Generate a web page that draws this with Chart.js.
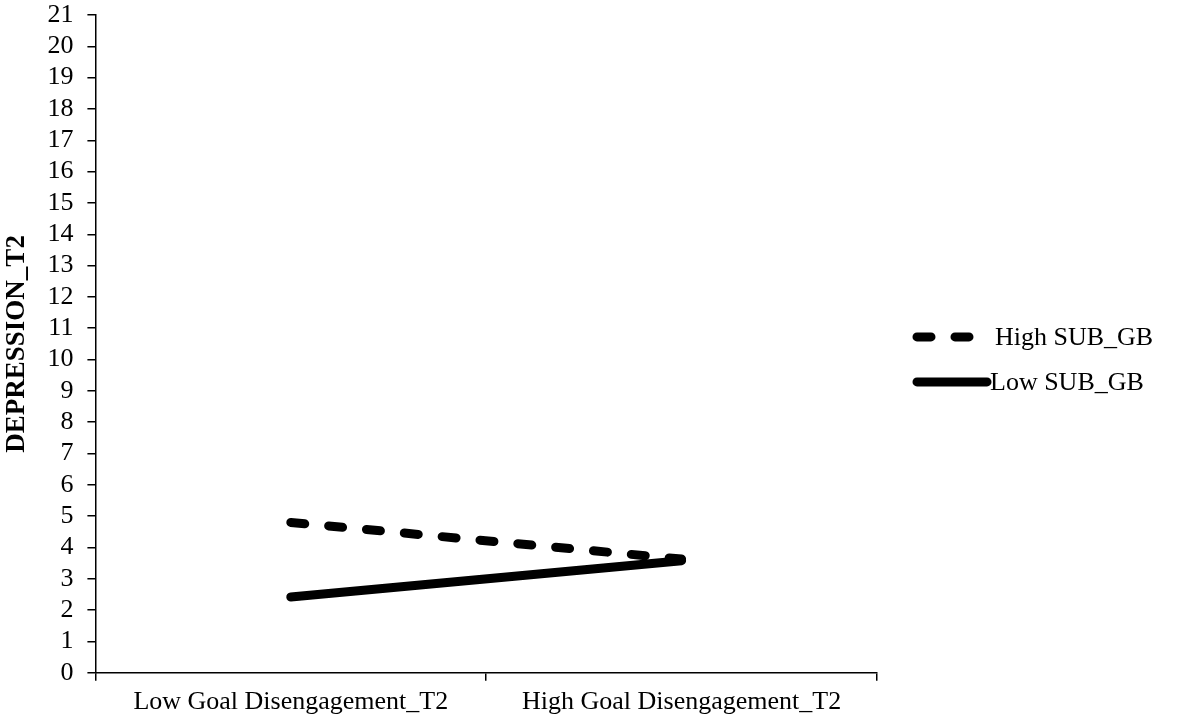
<!DOCTYPE html>
<html>
<head>
<meta charset="utf-8">
<script src="https://cdn.jsdelivr.net/npm/chart.js@4/dist/chart.umd.min.js"></script>
<style>
  html, body { margin: 0; padding: 0; background: #fff; }
  #wrap { width: 1177px; height: 724px; }
</style>
</head>
<body>
<div id="wrap"><canvas id="chart" width="1177" height="724"></canvas></div>
<script>
const categories = ['Low Goal Disengagement_T2', 'High Goal Disengagement_T2'];
const highSubGb = [4.8, 3.63];
const lowSubGb = [2.42, 3.58];
const seriesNames = ['High SUB_GB', 'Low SUB_GB'];
const yTicks = { min: 0, max: 21, step: 1 };

const FONT = 'Liberation Serif, Times New Roman, serif';
const FS = 26;

// legend drawn on the right side, next to the plot
const sideLegend = {
  id: 'sideLegend',
  afterDraw(chart) {
    const { ctx, chartArea } = chart;
    const x0 = chartArea.right + 36;
    const yMid = (chartArea.top + chartArea.bottom) / 2;
    chart.data.datasets.forEach((ds, i) => {
      const y = yMid - 7 + i * 45;
      ctx.save();
      ctx.strokeStyle = ds.borderColor;
      ctx.lineWidth = ds.borderWidth;
      ctx.lineCap = 'round';
      ctx.setLineDash(ds.borderDash || []);
      ctx.beginPath();
      ctx.moveTo(x0 + 4, y);
      ctx.lineTo(ds.borderDash ? x0 + 69 : x0 + 74, y);
      ctx.stroke();
      ctx.setLineDash([]);
      ctx.fillStyle = '#000';
      ctx.font = FS + 'px ' + FONT;
      ctx.textBaseline = 'middle';
      ctx.fillText(ds.label, ds.borderDash ? x0 + 82 : x0 + 77, y + 1);
      ctx.restore();
    });
  }
};

new Chart(document.getElementById('chart'), {
  type: 'line',
  data: {
    labels: categories,
    datasets: [
      {
        label: seriesNames[0],
        data: highSubGb,
        borderColor: '#000',
        borderWidth: 9,
        borderDash: [14, 24],
        borderCapStyle: 'round',
        pointRadius: 0,
        fill: false
      },
      {
        label: seriesNames[1],
        data: lowSubGb,
        borderColor: '#000',
        borderWidth: 9,
        borderCapStyle: 'round',
        pointRadius: 0,
        fill: false
      }
    ]
  },
  options: {
    responsive: false,
    animation: false,
    layout: { padding: { top: 15, right: 300, bottom: 0, left: -5 } },
    plugins: { legend: { display: false }, tooltip: { enabled: false } },
    scales: {
      x: {
        offset: true,
        grid: { offset: true, drawOnChartArea: false, color: '#000', tickLength: 8, lineWidth: 1.5 },
        border: { color: '#000', width: 1.5 },
        ticks: { color: '#000', font: { family: FONT, size: FS }, padding: 6, maxRotation: 0 }
      },
      y: {
        min: yTicks.min,
        max: yTicks.max,
        grid: { drawOnChartArea: false, color: '#000', tickLength: 8, lineWidth: 1.5 },
        border: { color: '#000', width: 1.5 },
        ticks: {
          stepSize: yTicks.step,
          autoSkip: false,
          color: '#000',
          font: { family: FONT, size: FS, lineHeight: 0 },
          padding: 14
        },
        title: {
          display: true,
          text: 'DEPRESSION_T2',
          color: '#000',
          font: { family: FONT, size: FS + 1, weight: 'bold' },
          padding: { top: 6, bottom: 0 }
        }
      }
    }
  },
  plugins: [sideLegend]
});
</script>
</body>
</html>
